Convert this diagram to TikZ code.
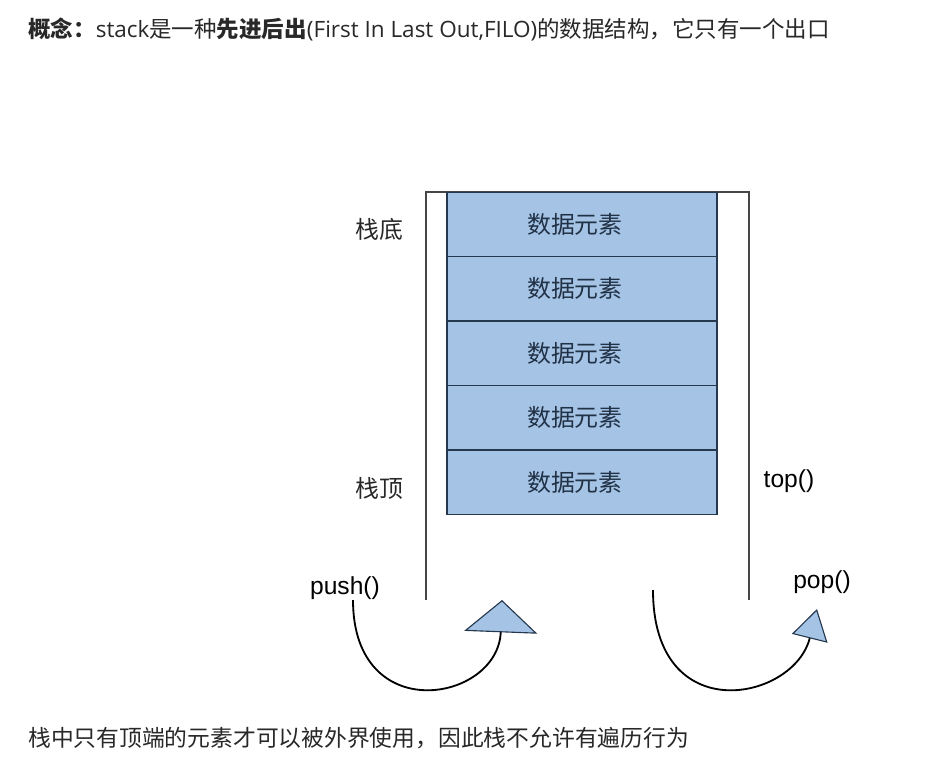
\documentclass[tikz,border=0pt]{standalone}
\usepackage{fontspec}
\setmainfont{Noto Sans CJK SC}
\newfontfamily\fnfont{Liberation Sans}
\newfontfamily\latinfont{Open Sans}
\usetikzlibrary{arrows.meta, positioning}

\definecolor{elemblue}{RGB}{164,195,229}
\definecolor{elemline}{RGB}{38,56,78}
\definecolor{wallgray}{RGB}{70,70,70}
\definecolor{txtdark}{RGB}{40,40,40}

\begin{document}
\begin{tikzpicture}[
    x=0.025cm, y=-0.025cm,
    elem/.style={draw=elemline, fill=elemblue, line width=1pt, outer sep=0pt, minimum width=6.75cm, minimum height=1.61cm, text=elemline!90!black, font=\fontsize{17}{20}\selectfont},
    side/.style={text=txtdark, font=\fontsize{17}{20}\selectfont},
    fn/.style={text=black, font=\fnfont\fontsize{17.5}{20}\selectfont},
    note/.style={anchor=west, inner sep=0pt, text=txtdark},
    wall/.style={draw=wallgray, line width=1pt},
    flow/.style={line width=1.3pt, black}
]
\useasboundingbox (0,0) rectangle (951,761);

\node[note, font=\fontsize{16}{18}\selectfont] (concept) at (28,29) {\textbf{概念：}{\latinfont stack}是一种\textbf{先进后出}{\latinfont(First In Last Out,FILO)}的数据结构，它只有一个出口};

% stack container
\draw[wall] (426,600) -- (426,192) -- (749,192) -- (749,600);

\node[elem] (e1) at (582,224.5) {\hspace*{-10pt}数据元素};
\node[elem, below=0pt of e1] (e2) {\hspace*{-10pt}数据元素};
\node[elem, below=0pt of e2] (e3) {\hspace*{-10pt}数据元素};
\node[elem, below=0pt of e3] (e4) {\hspace*{-10pt}数据元素};
\node[elem, below=0pt of e4] (e5) {\hspace*{-10pt}数据元素};

\node[side] (stackbottom) at (379,229) {栈底};
\node[side] (stacktop) at (379,488) {栈顶};
\node[fn] (topfn) at (789,481) {top()};
\node[fn] (pushfn) at (345,588) {push()};
\node[fn] (popfn) at (822,582) {pop()};

\coordinate (pushstart) at (353,600);
\coordinate (pushend) at (502,600);
\coordinate (popstart) at (653,590);
\coordinate (popend) at (817,609);

\draw[flow, -{Triangle[width=52pt, length=23pt, fill=elemblue, color=elemline, line width=0.8pt]}]
    (pushstart) .. controls (353,728) and (498,702) .. (pushend);
\draw[flow, -{Triangle[width=26pt, length=21.5pt, fill=elemblue, color=elemline, line width=0.8pt]}]
    (popstart) .. controls (653,730) and (794,701) .. (popend);

\node[note, font=\fontsize{16.2}{19}\selectfont] (rule) at (28,738) {栈中只有顶端的元素才可以被外界使用，因此栈不允许有遍历行为};
\end{tikzpicture}
\end{document}
